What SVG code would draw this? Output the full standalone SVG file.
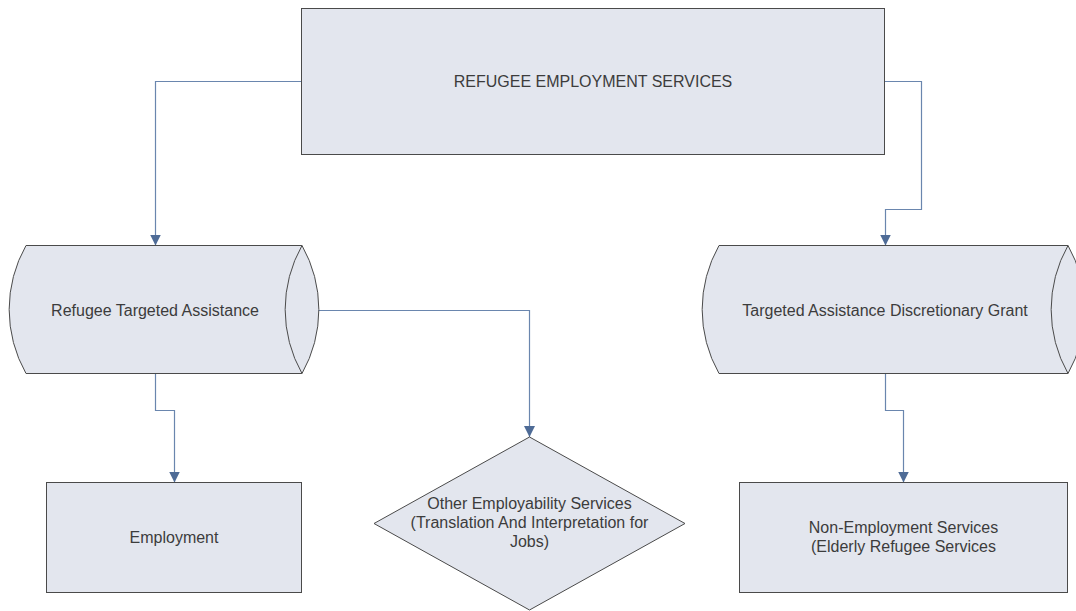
<svg xmlns="http://www.w3.org/2000/svg" width="1076" height="611" viewBox="0 0 1076 611">
<style>
.shape{fill:#E3E6EE;stroke:#4A4A4A;stroke-width:1}
.lbl{font-family:"Liberation Sans",Arial,sans-serif;font-size:16px;fill:#3C3C3C;text-anchor:middle}
.conn{fill:none;stroke:#6A86AE;stroke-width:1.2}
</style>
<defs>
<marker id="arr" markerUnits="userSpaceOnUse" markerWidth="11" markerHeight="11" refX="11" refY="5.5" orient="auto">
<path d="M0,0 L11,5.5 L0,11 z" fill="#4E6B96"/>
</marker>
</defs>
<rect width="1076" height="611" fill="#FFFFFF"/>
<g id="connectors">
<path class="conn" d="M301.5,81.5 H155.5 V245.5" marker-end="url(#arr)"/>
<path class="conn" d="M884.5,81.5 H921.5 V209.5 H885.5 V245.5" marker-end="url(#arr)"/>
<path class="conn" d="M317,310.5 H529.5 V437" marker-end="url(#arr)"/>
<path class="conn" d="M155.5,373.5 V410.5 H174.5 V482.5" marker-end="url(#arr)"/>
<path class="conn" d="M885.5,373.5 V410.5 H903.5 V482.5" marker-end="url(#arr)"/>
</g>
<g id="node-top">
<rect class="shape" x="301.5" y="8.5" width="583" height="146"/>
<text class="lbl" x="593" y="86.5">REFUGEE EMPLOYMENT SERVICES</text>
</g>
<g id="node-rta">
<path class="shape" d="M26,245.5 H302 A130 130 0 0 1 302,373.5 H26 A130 130 0 0 1 26,245.5 Z"/>
<path class="shape" d="M302,245.5 A130 130 0 0 0 302,373.5" fill="none"/>
<text class="lbl" x="155" y="315.5">Refugee Targeted Assistance</text>
</g>
<g id="node-tadg">
<path class="shape" d="M719,245.5 H1068 A130 130 0 0 1 1068,373.5 H719 A130 130 0 0 1 719,245.5 Z"/>
<path class="shape" d="M1068,245.5 A130 130 0 0 0 1068,373.5" fill="none"/>
<text class="lbl" x="885" y="315.5">Targeted Assistance Discretionary Grant</text>
</g>
<g id="node-employment">
<rect class="shape" x="46.5" y="482.5" width="255" height="110"/>
<text class="lbl" x="174" y="542.5">Employment</text>
</g>
<g id="node-other">
<polygon class="shape" points="529.5,437 685,523.5 529.5,610 374,523.5"/>
<text class="lbl" x="529.5" y="509.3">Other Employability Services</text>
<text class="lbl" x="529.5" y="528">(Translation And Interpretation for</text>
<text class="lbl" x="529.5" y="546.7">Jobs)</text>
</g>
<g id="node-nonemp">
<rect class="shape" x="739.5" y="482.5" width="328" height="110"/>
<text class="lbl" x="903.5" y="532.7">Non-Employment Services</text>
<text class="lbl" x="903.5" y="551.7">(Elderly Refugee Services</text>
</g>
</svg>
